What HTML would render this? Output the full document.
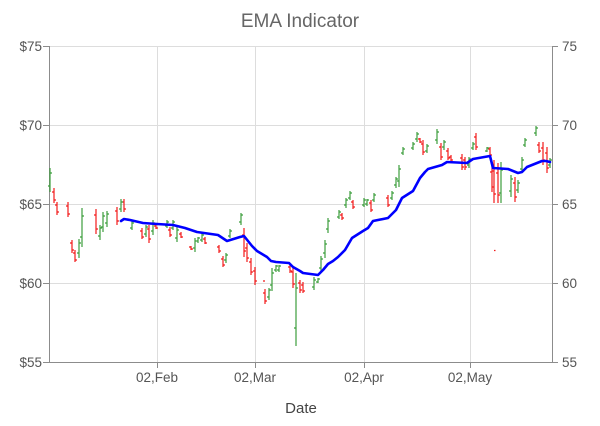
<!DOCTYPE html>
<html><head><meta charset="utf-8"><style>
html,body{margin:0;padding:0;background:#fff;}
svg{display:block;font-family:"Liberation Sans",sans-serif;}
</style></head><body>
<svg width="600" height="426" viewBox="0 0 600 426" xmlns="http://www.w3.org/2000/svg">
<rect width="600" height="426" fill="#fff"/>
<text x="300" y="27" text-anchor="middle" font-size="19" fill="#666">EMA Indicator</text>
<g stroke="#dddddd" stroke-width="1" fill="none">
<path d="M49 46.5H552M49 125.5H552M49 204.5H552M49 283.5H552"/>
<path d="M157.5 46V362M255.5 46V362M364.5 46V362M470.5 46V362"/>
</g>
<g stroke="#8c8c8c" stroke-width="1" fill="none">
<path d="M49.5 46V362.5M43 46.5H49M43 125.5H49M43 204.5H49M43 283.5H49M43 362.5H49"/>
<path d="M552.5 46V362.5M552 46.5H558M552 125.5H558M552 204.5H558M552 283.5H558M552 362.5H558"/>
<path d="M49 362.5H552M157.5 362V368M255.5 362V368M364.5 362V368M470.5 362V368"/>
</g>
<g font-size="13.5" fill="#555" text-anchor="end">
<text x="42" y="51">$75</text>
<text x="42" y="130">$70</text>
<text x="42" y="209">$65</text>
<text x="42" y="288">$60</text>
<text x="42" y="367">$55</text>
</g>
<g font-size="13.5" fill="#555">
<text x="562" y="51">75</text>
<text x="562" y="130">70</text>
<text x="562" y="209">65</text>
<text x="562" y="288">60</text>
<text x="562" y="367">55</text>
</g>
<g font-size="13.5" fill="#555" text-anchor="middle">
<text x="157" y="382">02,Feb</text>
<text x="255" y="382">02,Mar</text>
<text x="364" y="382">02,Apr</text>
<text x="470" y="382">02,May</text>
</g>
<text x="301" y="413" text-anchor="middle" font-size="15" fill="#444">Date</text>
<path fill="none" stroke="#f21a1a" stroke-width="1.2" d="M54 188V203M52 192H54M54 200H56 M57 202V215M55 205H57M57 212H59 M68 202V217M66 206H68M68 214H70 M72 240V253M70 243H72M72 250H74 M75 250V262M73 253H75M75 260H77 M96 209V234M94 215H96M96 229H98 M117 207V225M115 211H117M117 221H119 M124 199V212M122 202H124M124 209H126 M142 228V239M140 231H142M142 237H144 M149 225V243M147 229H149M149 239H151 M156 225V229M154 226H156M156 228H158 M170 227V237M168 230H170M170 235H172 M181 232V238M179 234H181M181 237H183 M191 246V250M189 247H191M191 249H193 M205 237V244M203 239H205M205 243H207 M219 245V253M217 247H219M219 251H221 M223 256V267M221 259H223M223 265H225 M244 228V257M242 235H244M244 251H246 M247 243V262M245 248H247M247 258H249 M251 258V275M249 262H251M251 272H253 M255 267V285M253 271H255M255 281H257 M265 289V304M263 293H265M265 301H267 M263 281H265 M290 265V273M288 267H290M290 271H292 M293 267V288M291 272H293M293 284H295 M300 280V293M298 283H300M300 290H302 M303 282V293M301 285H303M303 291H305 M342 213V220M340 215H342M342 218H344 M353 200V209M351 202H353M353 207H355 M371 200V212M369 203H371M371 210H373 M388 195V207M386 198H388M388 205H390 M420 138V143M418 139H420M420 142H422 M423 140V155M421 144H423M423 152H425 M441 143V160M439 147H441M441 157H443 M448 148V160M446 151H448M448 158H450 M451 155V162M449 157H451M451 160H453 M462 154V170M460 158H462M462 167H464 M465 157V170M463 160H465M465 167H467 M476 133V150M474 137H476M476 147H478 M490 147V157M488 149H490M490 155H492 M492 165V192M490 172H492M492 187H494 M494 160V203M492 171H494M494 194H496 M498 163V203M496 173H498M498 195H500 M515 177V202M513 183H515M515 197H517 M539 142V153M537 145H539M539 151H541 M543 142V165M541 148H543M543 160H545 M547 147V173M545 153H547M547 168H549 M494 250.5H495.5"/>
<path fill="none" stroke="#3c9e3c" stroke-width="1.2" d="M50 168V192M48 186H50M50 173H52 M79 239V258M77 253H79M79 243H81 M82 208V247M80 237H82M82 216H84 M100 225V240M98 236H100M100 228H102 M103 212V232M101 227H103M103 216H105 M107 211V227M105 223H107M107 214H109 M121 199V212M119 209H121M121 202H123 M132 221V230M130 228H132M132 223H134 M146 225V237M144 234H146M146 227H148 M153 220V235M151 231H153M153 223H155 M167 220V228M165 226H167M167 222H169 M173 220V230M171 228H173M173 222H175 M177 227V242M175 238H177M177 230H179 M195 238V252M193 248H195M195 241H197 M198 237V243M196 241H198M198 238H200 M202 233V242M200 240H202M202 235H204 M226 253V263M224 260H226M226 255H228 M230 229V238M228 236H230M230 231H232 M241 213V225M239 222H241M241 215H243 M269 288V300M267 297H269M269 290H271 M272 268V291M270 285H272M272 273H274 M276 265V272M274 270H276M276 266H278 M279 265V272M277 270H279M279 266H281 M296 273V346M294 328H296M296 288H298 M314 277V290M312 287H314M314 280H316 M318 278V283M316 282H318M318 279H320 M321 256V272M319 268H321M321 259H323 M325 240V258M323 253H325M325 244H327 M328 218V233M326 229H328M328 221H330 M339 210V219M337 217H339M339 212H341 M346 198V208M344 205H346M346 200H348 M350 191V200M348 198H350M350 193H352 M364 198V207M362 205H364M364 200H366 M367 199V206M365 204H367M367 200H369 M374 193V202M372 200H374M374 195H376 M392 191V200M390 198H392M392 193H394 M396 177V188M394 185H396M396 179H398 M399 165V187M397 181H399M399 169H401 M403 147V155M401 153H403M403 149H405 M413 142V150M411 148H413M413 144H415 M417 132V142M415 139H417M417 134H419 M427 144V153M425 151H427M427 146H429 M437 129V144M435 140H437M437 132H439 M444 140V150M442 147H444M444 142H446 M469 157V168M467 165H469M469 159H471 M473 142V150M471 148H473M473 144H475 M487 147V152M485 151H487M487 148H489 M501 162V203M499 193H501M501 170H503 M511 175V197M509 191H511M511 179H513 M518 180V193M516 190H518M518 183H520 M522 157V173M520 169H522M522 160H524 M525 138V147M523 145H525M525 140H527 M536 126V136M534 133H536M536 128H538 M550 158V168M548 165H550M550 160H552"/>
<polyline fill="none" stroke="#0000ff" stroke-width="2.6" stroke-linejoin="round" stroke-linecap="round" points="121,221 124,219 130,220 143,223 157,224 173,225 185,228 197,232 218,235 227,241 240,237 244,236 252,246 257,251 267,257 271,261 276,262 289,263 293,267 300,271 303,273 318,275 323,270 328,264 333,261 338,257 345,250 352,238 363,231 368,228 373,221 388,218 396,210 402,198 413,191 420,178 425,172 428,169 442,165 447,162 467,163 473,159 490,156 493,168 508,169 518,173 522,172 527,167 542,161 546,161 550,162"/>
</svg>
</body></html>
